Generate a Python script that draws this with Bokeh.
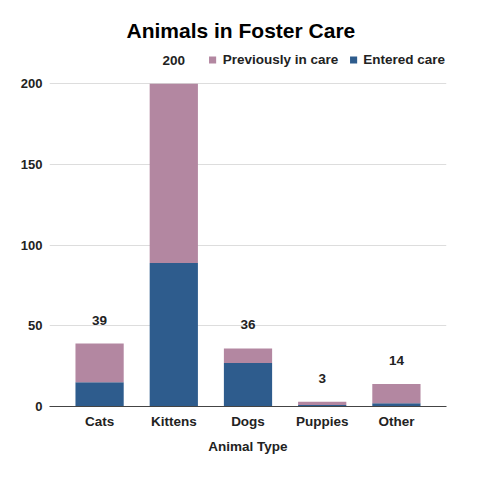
from bokeh.plotting import figure
from bokeh.models import ColumnDataSource, Range1d, Legend, LegendItem, LabelSet
from bokeh.core.properties import value
from bokeh.embed import file_html
from bokeh.resources import INLINE

animals = ["Cats", "Kittens", "Dogs", "Puppies", "Other"]
entered = [15, 89, 27, 1, 2]
previously = [24, 111, 9, 2, 12]
totals = [39, 200, 36, 3, 14]

FONT = "Liberation Sans"

src = ColumnDataSource(dict(animal=animals, entered=entered,
                            previously=previously, total=totals))

# y range runs a bit above 200 so the legend fits at the top of the frame
p = figure(x_range=animals, y_range=Range1d(0, 220), width=464, height=464,
           output_backend="svg", toolbar_location=None,
           title="Animals in Foster Care",
           x_axis_label="Animal Type",
           min_border_left=49, min_border_right=18, min_border_bottom=58,
           min_border_top=51)

r = p.vbar_stack(["entered", "previously"], x="animal", width=0.65, source=src,
                 color=["#2e5c8d", "#b387a1"], line_color=None)

# totals above the stacks
lbl = LabelSet(x="animal", y="total", text="total", source=src,
               y_offset=19, text_align="center", text_baseline="bottom",
               text_font=value(FONT), text_font_size="13.5px",
               text_font_style="bold", text_color="#222222")
p.add_layout(lbl)

legend = Legend(items=[LegendItem(label="Previously in care", renderers=[r[1]]),
                       LegendItem(label="Entered care", renderers=[r[0]])],
                orientation="horizontal", location="top_right",
                label_text_font=FONT, label_text_font_size="13.5px",
                label_text_font_style="bold", label_text_color="#222222",
                glyph_width=9, glyph_height=9, spacing=10, label_standoff=6,
                border_line_color=None, background_fill_alpha=0,
                padding=0, margin=1)
p.add_layout(legend)

p.title.text_font = FONT
p.title.text_font_size = "21px"
p.title.align = "left"
p.title.offset = 77
p.title.standoff = 19
p.title.text_color = "#000000"

p.xaxis.axis_label_text_font = FONT
p.xaxis.axis_label_text_font_size = "13.5px"
p.xaxis.axis_label_text_font_style = "bold"
p.xaxis.axis_label_text_color = "#222222"
p.xaxis.axis_label_standoff = 7
p.xaxis.major_label_text_font = FONT
p.xaxis.major_label_text_font_size = "13.5px"
p.xaxis.major_label_text_font_style = "bold"
p.xaxis.major_label_text_color = "#222222"
p.xaxis.major_tick_line_color = None
p.xaxis.axis_line_color = "#444444"
p.xaxis.major_label_standoff = 1

p.yaxis.ticker = [0, 50, 100, 150, 200]
p.yaxis.major_label_text_font = FONT
p.yaxis.major_label_text_font_size = "13px"
p.yaxis.major_label_text_font_style = "bold"
p.yaxis.major_label_text_color = "#222222"
p.yaxis.major_label_standoff = 1
p.yaxis.major_tick_line_color = None
p.yaxis.minor_tick_line_color = None
p.yaxis.axis_line_color = None

p.xgrid.grid_line_color = None
p.ygrid.grid_line_color = "#dddddd"
p.outline_line_color = None
p.x_range.range_padding = 0.07

open("out.html", "w").write(file_html(p, INLINE))
